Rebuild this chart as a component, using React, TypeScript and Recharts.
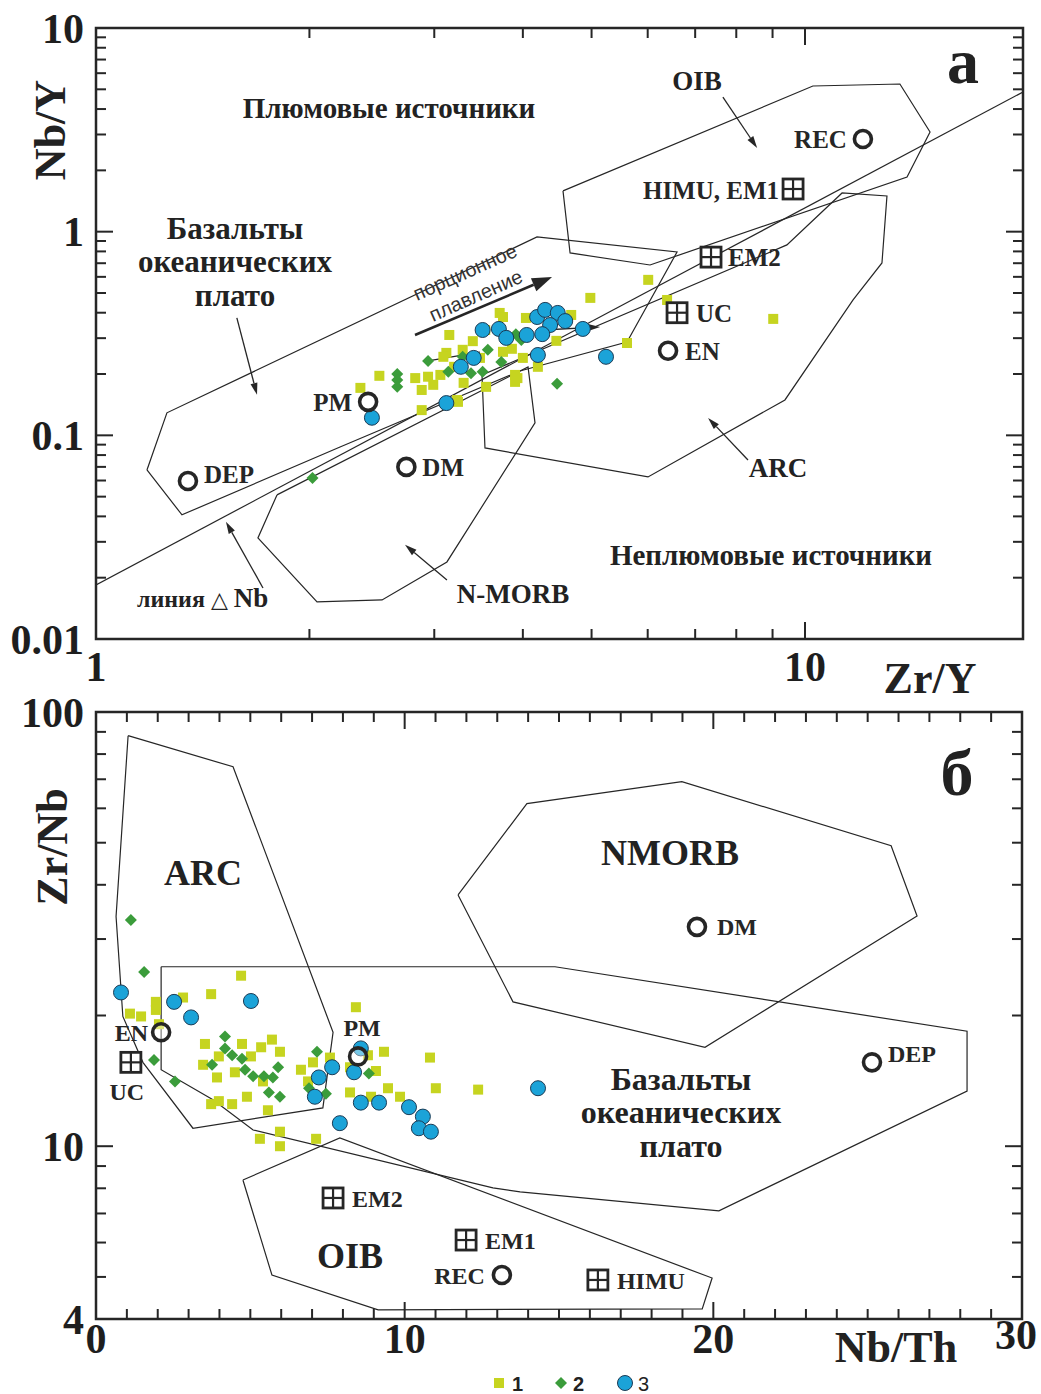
import React from "react";
import { ScatterChart, Scatter, XAxis, YAxis, ReferenceArea } from "recharts";

type Pt = { x: number; y: number };
type RefPt = { name: string; x: number; y: number };

const INK = "#262626";
const SERIF = "'Liberation Serif', 'Times New Roman', serif";
const SANS = "'Liberation Sans', Arial, sans-serif";
const SQ_FILL = "#c6d420";
const DIA_FILL = "#3b9c3b";
const CIR_FILL = "#1ba3d8";
const CIR_EDGE = "#1b3b55";

const toPts = (a: number[][]): Pt[] => a.map(([x, y]) => ({ x, y }));

// ---------- panel a: Zr/Y vs Nb/Y (log-log) ----------
const A_X_DOMAIN: [number, number] = [1, 20.3];
const A_Y_DOMAIN: [number, number] = [0.01, 10];
const A_X_TICKS = [1, 2, 3, 4, 5, 6, 7, 8, 9, 10];
const A_Y_TICKS = [
  0.01, 0.02, 0.03, 0.04, 0.05, 0.06, 0.07, 0.08, 0.09,
  0.1, 0.2, 0.3, 0.4, 0.5, 0.6, 0.7, 0.8, 0.9,
  1, 2, 3, 4, 5, 6, 7, 8, 9, 10,
];
const A_X_LABELS: Record<string, string> = { "1": "1", "10": "10" };
const A_Y_LABELS: Record<string, string> = { "0.01": "0.01", "0.1": "0.1", "1": "1", "10": "10" };

const A_SQUARES = [
  [2.36, 0.171], [2.51, 0.196], [2.82, 0.191], [2.94, 0.194], [2.88, 0.167], [2.99, 0.177],
  [3.06, 0.198], [3.15, 0.311], [3.12, 0.254], [3.2, 0.217], [2.88, 0.133], [3.24, 0.146],
  [3.29, 0.263], [3.4, 0.29], [3.48, 0.24], [3.55, 0.173], [3.71, 0.399], [3.75, 0.257],
  [3.93, 0.191], [3.86, 0.266], [4.0, 0.24], [4.04, 0.377], [4.2, 0.217], [4.46, 0.291],
  [4.68, 0.39], [4.98, 0.473], [3.54, 0.329], [6.01, 0.58], [6.39, 0.462], [5.61, 0.284],
  [9.02, 0.373], [3.9, 0.198], [3.9, 0.183], [3.23, 0.149], [3.09, 0.243], [3.75, 0.381],
  [3.3, 0.181],
];
const A_DIAMONDS = [
  [2.02, 0.0618], [2.66, 0.2], [2.66, 0.187], [2.66, 0.173], [2.94, 0.232], [3.14, 0.205],
  [3.29, 0.243], [3.38, 0.202], [3.51, 0.205], [3.57, 0.263], [3.73, 0.229], [3.98, 0.294],
  [3.91, 0.314], [4.47, 0.179],
];
const A_CIRCLES = [
  [2.45, 0.122], [3.12, 0.144], [3.27, 0.217], [3.41, 0.24], [3.51, 0.329], [3.7, 0.333],
  [3.79, 0.301], [4.05, 0.311], [4.19, 0.381], [4.3, 0.413], [4.48, 0.399], [4.59, 0.364],
  [4.37, 0.348], [4.26, 0.314], [4.2, 0.248], [4.86, 0.333], [5.24, 0.243],
];
const A_REF_CIRCLES: RefPt[] = [
  { name: "DEP", x: 1.348, y: 0.0597 },
  { name: "PM", x: 2.42, y: 0.146 },
  { name: "DM", x: 2.74, y: 0.07 },
  { name: "EN", x: 6.41, y: 0.26 },
  { name: "REC", x: 12.07, y: 2.85 },
];
const A_REF_SQUARES: RefPt[] = [
  { name: "UC", x: 6.6, y: 0.4 },
  { name: "EM2", x: 7.37, y: 0.75 },
  { name: "HIMU, EM1", x: 9.62, y: 1.62 },
];
// field outlines and the ΔNb line
const A_DNB_LINE = [[1, 0.01843], [20.3, 4.85]];
const A_OIB = [
  [4.557, 1.585], [10.26, 5.19], [13.61, 5.31], [15.01, 3.088], [13.93, 1.856],
  [6.045, 0.686], [4.663, 0.786], [4.557, 1.585],
];
const A_PLATEAU = [
  [1.18, 0.0676], [1.259, 0.129], [4.188, 0.942], [6.6, 0.795], [5.61, 0.2874],
  [3.963, 0.207], [2.209, 0.0877], [1.322, 0.0407], [1.18, 0.0676],
];
const A_ARC = [
  [3.503, 0.1979], [3.537, 0.0867], [6.006, 0.0625], [9.37, 0.1492], [11.69, 0.462],
  [12.84, 0.702], [13.05, 1.497], [11.28, 1.549], [9.43, 0.861], [3.503, 0.1979],
];
const A_NMORB = [
  [1.8, 0.051], [1.692, 0.03135], [2.05, 0.0152], [2.532, 0.01556], [3.126, 0.0239],
  [4.161, 0.1151], [4.068, 0.2166], [1.8, 0.051],
];
const A_ARROWS = [
  [[1.58, 0.377], [1.687, 0.158]],
  [[7.66, 4.58], [8.56, 2.576]],
  [[8.31, 0.0757], [7.3, 0.1218]],
  [[3.126, 0.0195], [2.728, 0.029]],
  [[1.72, 0.0178], [1.525, 0.0376]],
  [[4.27, 0.329], [5.14, 0.3404]],
];
const A_MELT_ARROW = [[2.818, 0.311], [4.398, 0.599]];
const A_SHORT_LINE = [[2.94, 0.232], [3.48, 0.256]];

// ---------- panel б: Nb/Th vs Zr/Nb ----------
const B_X_DOMAIN: [number, number] = [0, 30];
const B_Y_DOMAIN: [number, number] = [4, 100];
const B_X_TICKS = [
  0, 1, 2, 3, 4, 5, 6, 7, 8, 9, 10, 11, 12, 13, 14, 15, 16, 17, 18, 19, 20,
  21, 22, 23, 24, 25, 26, 27, 28, 29, 30,
];
const B_Y_TICKS = [4, 5, 6, 7, 8, 9, 10, 20, 30, 40, 50, 60, 70, 80, 90, 100];
const B_X_LABELS: Record<string, string> = { "0": "0", "10": "10", "20": "20", "30": "30" };
const B_Y_LABELS: Record<string, string> = { "4": "4", "10": "10", "100": "100" };

const B_SQUARES = [
  [4.7, 24.7], [3.73, 22.4], [2.82, 22.0], [1.94, 21.5], [1.94, 20.6], [1.1, 20.2],
  [1.46, 19.9], [2.04, 19.1], [8.42, 20.9], [3.53, 17.2], [4.73, 17.2], [5.7, 17.6],
  [5.35, 16.9], [5.96, 16.5], [3.98, 16.1], [5.02, 16.1], [3.47, 15.4], [3.92, 14.4],
  [4.5, 14.8], [5.41, 14.1], [3.73, 12.5], [3.98, 12.7], [4.41, 12.5], [4.89, 13.0],
  [5.57, 12.1], [6.64, 15.0], [7.03, 15.6], [7.58, 16.0], [6.87, 14.1], [8.23, 15.2],
  [8.81, 16.2], [9.33, 16.5], [9.07, 14.9], [8.23, 13.3], [8.91, 13.0], [9.46, 13.6],
  [9.85, 13.0], [10.82, 16.0], [11.01, 13.6], [12.38, 13.5], [5.31, 10.4], [5.96, 10.8],
  [5.96, 10.0], [7.13, 10.4],
];
const B_DIAMONDS = [
  [1.13, 33.2], [1.56, 25.2], [1.88, 15.8], [2.56, 14.1], [4.18, 17.9], [4.18, 16.8],
  [4.41, 16.2], [4.73, 15.9], [3.76, 15.4], [4.83, 15.0], [5.09, 14.5], [5.44, 14.5],
  [5.73, 14.4], [5.9, 15.2], [5.6, 13.3], [5.96, 13.0], [7.16, 16.5], [6.9, 13.6],
  [7.45, 13.2], [8.84, 14.7],
];
const B_CIRCLES = [
  [0.81, 22.6], [2.53, 21.5], [3.08, 19.8], [5.02, 21.6], [8.58, 16.8], [7.65, 15.2],
  [7.22, 14.4], [7.09, 13.0], [8.36, 14.8], [8.58, 12.6], [9.17, 12.6], [10.14, 12.3],
  [10.59, 11.7], [10.46, 11.0], [10.85, 10.8], [7.9, 11.3], [14.32, 13.6],
];
const B_REF_CIRCLES: RefPt[] = [
  { name: "DM", x: 19.47, y: 32.0 },
  { name: "DEP", x: 25.14, y: 15.6 },
  { name: "EN", x: 2.11, y: 18.3 },
  { name: "PM", x: 8.49, y: 16.1 },
  { name: "REC", x: 13.15, y: 5.05 },
];
const B_REF_SQUARES: RefPt[] = [
  { name: "UC", x: 1.13, y: 15.6 },
  { name: "EM2", x: 7.68, y: 7.6 },
  { name: "EM1", x: 11.99, y: 6.08 },
  { name: "HIMU", x: 16.26, y: 4.92 },
];
const B_ARC = [
  [1.04, 88.2], [4.44, 74.8], [7.68, 18.3], [7.35, 12.25], [3.14, 11.0], [1.52, 15.6],
  [0.87, 19.9], [0.65, 33.8], [1.04, 88.2],
];
const B_PLATEAU = [
  [2.11, 25.9], [14.87, 25.9], [28.22, 18.4], [28.22, 13.4], [20.18, 7.1], [13.74, 7.85],
  [12.86, 8.02], [5.09, 10.9], [3.79, 12.8], [2.11, 15.0], [2.11, 25.9],
];
const B_OIB = [
  [4.76, 8.36], [7.9, 10.45], [19.96, 4.97], [19.64, 4.22], [9.14, 4.2], [5.7, 5.05], [4.76, 8.36],
];
const B_NMORB = [
  [11.73, 37.9], [13.96, 61.5], [18.98, 69.1], [25.76, 49.2], [26.6, 33.9], [19.73, 16.9],
  [13.51, 21.5], [11.73, 37.9],
];

// label placement for reference points (offset from marker, px)
type LabelPos = { dx: number; dy: number; anchor: "start" | "middle" | "end" };
const A_LABEL_POS: Record<string, LabelPos> = {
  DEP: { dx: 16, dy: 2, anchor: "start" },
  PM: { dx: -16, dy: 9, anchor: "end" },
  DM: { dx: 16, dy: 9, anchor: "start" },
  EN: { dx: 17, dy: 9, anchor: "start" },
  REC: { dx: -16, dy: 9, anchor: "end" },
  UC: { dx: 19, dy: 9, anchor: "start" },
  EM2: { dx: 17, dy: 9, anchor: "start" },
  "HIMU, EM1": { dx: -14, dy: 10, anchor: "end" },
};
const B_LABEL_POS: Record<string, LabelPos> = {
  DM: { dx: 20, dy: 8, anchor: "start" },
  DEP: { dx: 16, dy: 0, anchor: "start" },
  EN: { dx: -13, dy: 9, anchor: "end" },
  PM: { dx: 4, dy: -20, anchor: "middle" },
  REC: { dx: -17, dy: 9, anchor: "end" },
  UC: { dx: -4, dy: 38, anchor: "middle" },
  EM2: { dx: 19, dy: 9, anchor: "start" },
  EM1: { dx: 19, dy: 9, anchor: "start" },
  HIMU: { dx: 19, dy: 9, anchor: "start" },
};

// ---------- shapes ----------
const none = () => <g />;

const edge = (p: any) => (
  <polyline
    points={(p.points || []).map((q: any) => `${q.x},${q.y}`).join(" ")}
    fill="none"
    stroke={INK}
    strokeWidth={1.2}
  />
);

const makeArrow = (width: number, headLen: number, headW: number) => (p: any) => {
  const pts = p.points || [];
  if (pts.length < 2) return <g />;
  const a = pts[0];
  const b = pts[pts.length - 1];
  const ang = Math.atan2(b.y - a.y, b.x - a.x);
  const bx = b.x - headLen * Math.cos(ang);
  const by = b.y - headLen * Math.sin(ang);
  const nx = -Math.sin(ang) * headW;
  const ny = Math.cos(ang) * headW;
  return (
    <g>
      <line x1={a.x} y1={a.y} x2={bx} y2={by} stroke={INK} strokeWidth={width} />
      <polygon points={`${b.x},${b.y} ${bx + nx},${by + ny} ${bx - nx},${by - ny}`} fill={INK} />
    </g>
  );
};
const thinArrow = makeArrow(1.3, 12, 3.5);
const boldArrow = makeArrow(2.6, 20, 7);

const squareShape = (p: any) => <rect x={p.cx - 5} y={p.cy - 5} width={10} height={10} fill={SQ_FILL} />;
const diamondShape = (p: any) => (
  <polygon points={`${p.cx},${p.cy - 6} ${p.cx + 6},${p.cy} ${p.cx},${p.cy + 6} ${p.cx - 6},${p.cy}`} fill={DIA_FILL} />
);
const circleShape = (p: any) => <circle cx={p.cx} cy={p.cy} r={7.5} fill={CIR_FILL} stroke={CIR_EDGE} strokeWidth={1} />;

const refLabel = (p: any, pos: Record<string, LabelPos>, fs: number) => {
  const name = p.payload?.name ?? "";
  const lp = pos[name] || { dx: 14, dy: 8, anchor: "start" };
  return (
    <text x={p.cx + lp.dx} y={p.cy + lp.dy} textAnchor={lp.anchor} fontFamily={SERIF} fontWeight="bold" fontSize={fs} fill={INK}>
      {name}
    </text>
  );
};
const makeRefCircle = (pos: Record<string, LabelPos>, fs: number) => (p: any) => (
  <g>
    <circle cx={p.cx} cy={p.cy} r={8.5} fill="#fff" fillOpacity={0.4} stroke={INK} strokeWidth={3.6} />
    {refLabel(p, pos, fs)}
  </g>
);
const makeRefSquare = (pos: Record<string, LabelPos>, fs: number) => (p: any) => (
  <g>
    <rect x={p.cx - 10} y={p.cy - 10} width={20} height={20} fill="#fff" stroke={INK} strokeWidth={2.8} />
    <line x1={p.cx} x2={p.cx} y1={p.cy - 10} y2={p.cy + 10} stroke={INK} strokeWidth={2.2} />
    <line x1={p.cx - 10} x2={p.cx + 10} y1={p.cy} y2={p.cy} stroke={INK} strokeWidth={2.2} />
    {refLabel(p, pos, fs)}
  </g>
);

// ---------- ticks ----------
type Frame = { l: number; r: number; t: number; b: number };
const TICK_TEXT = { fontFamily: SERIF, fontWeight: "bold" as const, fontSize: 42, fill: "#1e1e1e" };

const makeXTick = (f: Frame, labels: Record<string, string>, major: number[], labelDy: number) => (props: any) => {
  const x = props.x;
  const v = props.payload?.value;
  const len = major.includes(v) ? 17 : 10;
  const lab = labels[String(v)];
  const last = v === B_X_DOMAIN[1] && labels === B_X_LABELS;
  return (
    <g>
      <line x1={x} x2={x} y1={f.b} y2={f.b - len} stroke={INK} strokeWidth={2} />
      <line x1={x} x2={x} y1={f.t} y2={f.t + len} stroke={INK} strokeWidth={2} />
      {lab !== undefined && (
        <text x={x + (last ? -6 : 0)} y={f.b + labelDy + (last ? -4 : 0)} textAnchor="middle" {...TICK_TEXT}>
          {lab}
        </text>
      )}
    </g>
  );
};
const makeYTick = (f: Frame, labels: Record<string, string>, major: number[]) => (props: any) => {
  const y = props.y;
  const v = props.payload?.value;
  const len = major.includes(v) ? 17 : 10;
  const lab = labels[String(v)];
  return (
    <g>
      <line x1={f.l} x2={f.l + len} y1={y} y2={y} stroke={INK} strokeWidth={2} />
      <line x1={f.r} x2={f.r - len} y1={y} y2={y} stroke={INK} strokeWidth={2} />
      {lab !== undefined && (
        <text x={f.l - 12} y={y} dy="0.35em" textAnchor="end" {...TICK_TEXT}>
          {lab}
        </text>
      )}
    </g>
  );
};

const A_FRAME: Frame = { l: 96, r: 1023, t: 28, b: 639 };
const B_FRAME: Frame = { l: 96, r: 1022, t: 22, b: 629 };

function PanelA() {
  return (
    <ScatterChart width={1041} height={690} margin={{ top: 28, right: 18, bottom: 21, left: 36 }}>
      <XAxis type="number" dataKey="x" scale="log" domain={A_X_DOMAIN} allowDataOverflow ticks={A_X_TICKS}
        interval={0} height={30} axisLine={false} tickLine={false} tick={makeXTick(A_FRAME, A_X_LABELS, [10], 42)} />
      <YAxis type="number" dataKey="y" scale="log" domain={A_Y_DOMAIN} allowDataOverflow ticks={A_Y_TICKS}
        interval={0} width={60} axisLine={false} tickLine={false} tick={makeYTick(A_FRAME, A_Y_LABELS, [0.1, 1])} />
      <ReferenceArea x1={A_X_DOMAIN[0]} x2={A_X_DOMAIN[1]} y1={A_Y_DOMAIN[0]} y2={A_Y_DOMAIN[1]}
        fill="none" fillOpacity={0} stroke={INK} strokeWidth={2.5} ifOverflow="visible" />
      {[A_DNB_LINE, A_OIB, A_PLATEAU, A_ARC, A_NMORB, A_SHORT_LINE].map((d, i) => (
        <Scatter key={`af${i}`} data={toPts(d)} line={edge} shape={none} isAnimationActive={false} legendType="none" />
      ))}
      {A_ARROWS.map((d, i) => (
        <Scatter key={`aa${i}`} data={toPts(d)} line={thinArrow} shape={none} isAnimationActive={false} legendType="none" />
      ))}
      <Scatter data={toPts(A_MELT_ARROW)} line={boldArrow} shape={none} isAnimationActive={false} legendType="none" />
      <Scatter name="1" data={toPts(A_SQUARES)} shape={squareShape} isAnimationActive={false} />
      <Scatter name="2" data={toPts(A_DIAMONDS)} shape={diamondShape} isAnimationActive={false} />
      <Scatter name="3" data={toPts(A_CIRCLES)} shape={circleShape} isAnimationActive={false} />
      <Scatter data={A_REF_CIRCLES} shape={makeRefCircle(A_LABEL_POS, 25)} isAnimationActive={false} legendType="none" />
      <Scatter data={A_REF_SQUARES} shape={makeRefSquare(A_LABEL_POS, 25)} isAnimationActive={false} legendType="none" />
    </ScatterChart>
  );
}

function PanelB() {
  return (
    <ScatterChart width={1041} height={704} margin={{ top: 22, right: 19, bottom: 45, left: 36 }}>
      <XAxis type="number" dataKey="x" domain={B_X_DOMAIN} allowDataOverflow ticks={B_X_TICKS}
        interval={0} height={30} axisLine={false} tickLine={false} tick={makeXTick(B_FRAME, B_X_LABELS, [10, 20], 34)} />
      <YAxis type="number" dataKey="y" scale="log" domain={B_Y_DOMAIN} allowDataOverflow ticks={B_Y_TICKS}
        interval={0} width={60} axisLine={false} tickLine={false} tick={makeYTick(B_FRAME, B_Y_LABELS, [10])} />
      <ReferenceArea x1={B_X_DOMAIN[0]} x2={B_X_DOMAIN[1]} y1={B_Y_DOMAIN[0]} y2={B_Y_DOMAIN[1]}
        fill="none" fillOpacity={0} stroke={INK} strokeWidth={2.5} ifOverflow="visible" />
      {[B_ARC, B_PLATEAU, B_OIB, B_NMORB].map((d, i) => (
        <Scatter key={`bf${i}`} data={toPts(d)} line={edge} shape={none} isAnimationActive={false} legendType="none" />
      ))}
      <Scatter name="1" data={toPts(B_SQUARES)} shape={squareShape} isAnimationActive={false} />
      <Scatter name="2" data={toPts(B_DIAMONDS)} shape={diamondShape} isAnimationActive={false} />
      <Scatter name="3" data={toPts(B_CIRCLES)} shape={circleShape} isAnimationActive={false} />
      <Scatter data={B_REF_CIRCLES} shape={makeRefCircle(B_LABEL_POS, 24)} isAnimationActive={false} legendType="none" />
      <Scatter data={B_REF_SQUARES} shape={makeRefSquare(B_LABEL_POS, 24)} isAnimationActive={false} legendType="none" />
    </ScatterChart>
  );
}

const T = { fontFamily: SERIF, fontWeight: "bold" as const, fill: "#222" };

function Annotations() {
  return (
    <svg width={1041} height={1394} style={{ position: "absolute", left: 0, top: 0, pointerEvents: "none" }}>
      {/* panel a */}
      <text transform="translate(50,130) rotate(-90)" textAnchor="middle" dy="0.35em" fontSize={44} {...T}>Nb/Y</text>
      <text x={930} y={693} textAnchor="middle" fontSize={44} {...T}>Zr/Y</text>
      <text x={963} y={83} textAnchor="middle" fontSize={64} {...T}>а</text>
      <text x={389} y={118} textAnchor="middle" fontSize={29} {...T}>Плюмовые источники</text>
      <text x={771} y={565} textAnchor="middle" fontSize={29} {...T}>Неплюмовые источники</text>
      <text x={235} y={239} textAnchor="middle" fontSize={31} {...T}>Базальты</text>
      <text x={235} y={272} textAnchor="middle" fontSize={31} {...T}>океанических</text>
      <text x={235} y={306} textAnchor="middle" fontSize={31} {...T}>плато</text>
      <text x={697} y={90} textAnchor="middle" fontSize={27} {...T}>OIB</text>
      <text x={778} y={477} textAnchor="middle" fontSize={27} {...T}>ARC</text>
      <text x={513} y={603} textAnchor="middle" fontSize={27} {...T}>N-MORB</text>
      <text x={137} y={607} fontSize={24} {...T}>
        линия <tspan fontFamily={"'DejaVu Sans', sans-serif"} fontWeight="normal" fontSize={22}>△</tspan>
        <tspan dx={6} fontSize={27}>Nb</tspan>
      </text>
      <text transform="translate(417,301) rotate(-24)" fontSize={20} fontFamily={SANS} fill="#333">порционное</text>
      <text transform="translate(433,322) rotate(-24)" fontSize={20} fontFamily={SANS} fill="#333">плавление</text>

      {/* panel б */}
      <text transform="translate(52,847) rotate(-90)" textAnchor="middle" dy="0.35em" fontSize={44} {...T}>Zr/Nb</text>
      <text x={896} y={1362} textAnchor="middle" fontSize={44} {...T}>Nb/Th</text>
      <text x={957} y={795} textAnchor="middle" fontSize={66} {...T}>б</text>
      <text x={203} y={885} textAnchor="middle" fontSize={36} {...T}>ARC</text>
      <text x={670} y={865} textAnchor="middle" fontSize={36} {...T}>NMORB</text>
      <text x={350} y={1268} textAnchor="middle" fontSize={36} {...T}>OIB</text>
      <text x={681} y={1090} textAnchor="middle" fontSize={32} {...T}>Базальты</text>
      <text x={681} y={1123} textAnchor="middle" fontSize={32} {...T}>океанических</text>
      <text x={681} y={1157} textAnchor="middle" fontSize={32} {...T}>плато</text>

      {/* legend */}
      <rect x={494} y={1378} width={10} height={10} fill={SQ_FILL} />
      <text x={512} y={1391} fontSize={20} fontFamily={SANS} fontWeight="bold" fill="#222">1</text>
      <polygon points="561,1377 567,1383 561,1389 555,1383" fill={DIA_FILL} />
      <text x={573} y={1391} fontSize={20} fontFamily={SANS} fontWeight="bold" fill="#222">2</text>
      <circle cx={625} cy={1383} r={7.5} fill={CIR_FILL} stroke={CIR_EDGE} strokeWidth={1} />
      <text x={638} y={1391} fontSize={20} fontFamily={SANS} fill="#222">3</text>
    </svg>
  );
}

export default function App() {
  return (
    <div style={{ position: "absolute", left: 0, top: 0, width: 1041, height: 1394, background: "#fff" }}>
      <div style={{ position: "absolute", left: 0, top: 0 }}>
        <PanelA />
      </div>
      <div style={{ position: "absolute", left: 0, top: 690 }}>
        <PanelB />
      </div>
      <Annotations />
    </div>
  );
}
